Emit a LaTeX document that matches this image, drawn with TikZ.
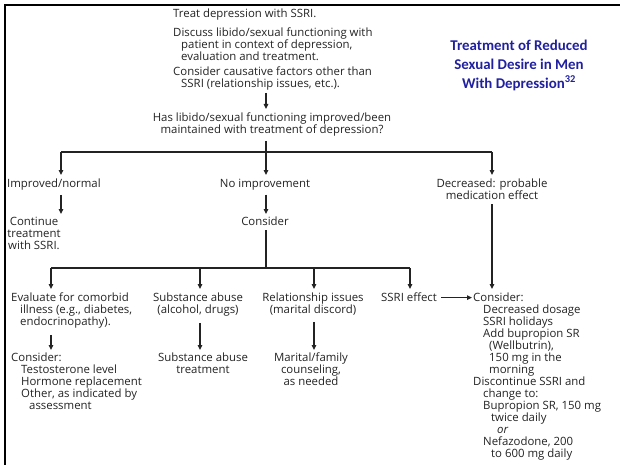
\documentclass[tikz,border=0pt]{standalone}
\usepackage{fontspec}
\setmainfont{Open Sans}
\newfontfamily\titlefont{Carlito}
\usetikzlibrary{arrows.meta,positioning}
\definecolor{inkgray}{RGB}{35,35,35}
\definecolor{titleblue}{RGB}{32,32,160}
\tikzset{
    flowtext/.style={
        font=\fontsize{11.4}{12}\selectfont,
        text=inkgray,
        inner sep=0pt,
        align=left,
        anchor=north west
    },
    % centred blocks of text
    ctext/.style={
        flowtext,
        align=center,
        anchor=north
    },
    flowline/.style={
        line width=1.1pt,
        draw=inkgray
    },
    flowarrow/.style={
        flowline,
        -{Triangle[length=5pt, width=4.5pt]}
    }
}

\begin{document}
\begin{tikzpicture}[x=1pt,y=-1pt]
    \useasboundingbox (0,0) rectangle (620,465);
    \draw[line width=2pt,black] (5,465) -- (5,5) -- (620,5);

    \node[font=\titlefont\bfseries\fontsize{14.9}{19}\selectfont, text=titleblue,
        align=center, inner sep=0pt] (title) at (519,65)
        {Treatment of Reduced\\Sexual Desire in Men\\With Depression\textsuperscript{32}};

    \node[flowtext] (treat) at (173,9) {Treat depression with SSRI.};
    \node[flowtext] (discuss) at (173,28) {Discuss libido/sexual functioning with\\
        \hspace*{8pt}patient in context of depression,\\
        \hspace*{8pt}evaluation and treatment.};
    \node[flowtext] (causes) at (173,67) {Consider causative factors other than\\
        \hspace*{8pt}SSRI (relationship issues, etc.).};
    \node[ctext] (question) at (272,113) {Has libido/sexual functioning improved/been\\
        maintained with treatment of depression?};

    \coordinate (qin) at (266,109);
    \draw[flowarrow] (causes.south -| qin) ++(0,2) -- (qin);

    % first split
    \coordinate (s1) at (266,152);
    \coordinate (s1l) at (61,152);
    \coordinate (s1r) at (492,152);
    \draw[flowline] (question.south -| s1) ++(0,4) -- (s1);
    \draw[flowline] (s1l) -- (s1r);

    \node[flowtext] (improved) at (7,179) {Improved/normal};
    \node[ctext] (noimpr) at (265,179) {No improvement};
    \node[ctext] (decreased) at (492,179) {Decreased: probable\\medication effect};
    \draw[flowarrow,shorten >=4pt] (s1l) -- (s1l |- improved.north);
    \draw[flowarrow,shorten >=4pt] (s1) -- (s1 |- noimpr.north);
    \draw[flowarrow,shorten >=4pt] (s1r) -- (decreased.north);

    \node[ctext] (continue) at (34,217) {Continue\\treatment\\with SSRI.};
    \node[ctext] (consider) at (265,217) {Consider};
    \draw[flowarrow,shorten <=4pt,shorten >=3pt] (improved.south -| s1l) -- (continue.north -| s1l);
    \draw[flowarrow,shorten <=4pt,shorten >=3pt] (noimpr.south -| s1) -- (consider.north -| s1);

    % second split
    \coordinate (s2) at (266,268);
    \coordinate (s2a) at (51,268);
    \coordinate (s2b) at (200,268);
    \coordinate (s2c) at (314,268);
    \coordinate (s2d) at (410,268);
    \draw[flowline,shorten <=4pt] (consider.south -| s2) -- (s2);
    \draw[flowline] (s2a) -- (s2d);

    \node[flowtext] (evaluate) at (11,293) {Evaluate for comorbid\\
        \hspace*{9pt}illness (e.g., diabetes,\\
        \hspace*{9pt}endocrinopathy).};
    \node[ctext] (substance) at (198,293) {Substance abuse\\(alcohol, drugs)};
    \node[ctext] (relation) at (313,293) {Relationship issues\\(marital discord)};
    \node[flowtext] (ssri) at (381,293) {SSRI effect};
    \node[flowtext] (options) at (473,293) {Consider:\\
        \hspace*{10pt}Decreased dosage\\
        \hspace*{10pt}SSRI holidays\\
        \hspace*{10pt}Add bupropion SR\\
        \hspace*{16pt}(Wellbutrin),\\
        \hspace*{16pt}150 mg in the\\
        \hspace*{16pt}morning\\
        Discontinue SSRI and\\
        \hspace*{10pt}change to:\\
        \hspace*{10pt}Bupropion SR, 150 mg\\
        \hspace*{18pt}twice daily\\
        \hspace*{24pt}\textit{or}\\
        \hspace*{10pt}Nefazodone, 200\\
        \hspace*{18pt}to 600 mg daily};

    \draw[flowarrow,shorten >=4pt] (s2a) -- (s2a |- evaluate.north);
    \draw[flowarrow,shorten >=4pt] (s2b) -- (s2b |- substance.north);
    \draw[flowarrow,shorten >=4pt] (s2c) -- (s2c |- relation.north);
    \draw[flowarrow,shorten >=4pt] (s2d) -- (s2d |- ssri.north);
    \draw[flowarrow,shorten <=4pt,shorten >=4pt] (decreased.south) -- (decreased.south |- options.north);
    \draw[flowarrow,shorten <=4pt,shorten >=1pt] (ssri.east) -- (ssri.east -| options.west);

    \node[flowtext] (hormone) at (11,353) {Consider:\\
        \hspace*{10pt}Testosterone level\\
        \hspace*{10pt}Hormone replacement\\
        \hspace*{10pt}Other, as indicated by\\
        \hspace*{18pt}assessment};
    \node[ctext] (treatment) at (203,353) {Substance abuse\\treatment};
    \node[ctext] (marital) at (311,353) {Marital/family\\counseling,\\as needed};

    \draw[flowarrow,shorten <=6pt,shorten >=3pt] (evaluate.south -| s2a) -- (hormone.north -| s2a);
    \draw[flowarrow,shorten <=6pt,shorten >=3pt] (substance.south -| s2b) -- (treatment.north -| s2b);
    \draw[flowarrow,shorten <=6pt,shorten >=3pt] (relation.south -| s2c) -- (marital.north -| s2c);
\end{tikzpicture}
\end{document}
